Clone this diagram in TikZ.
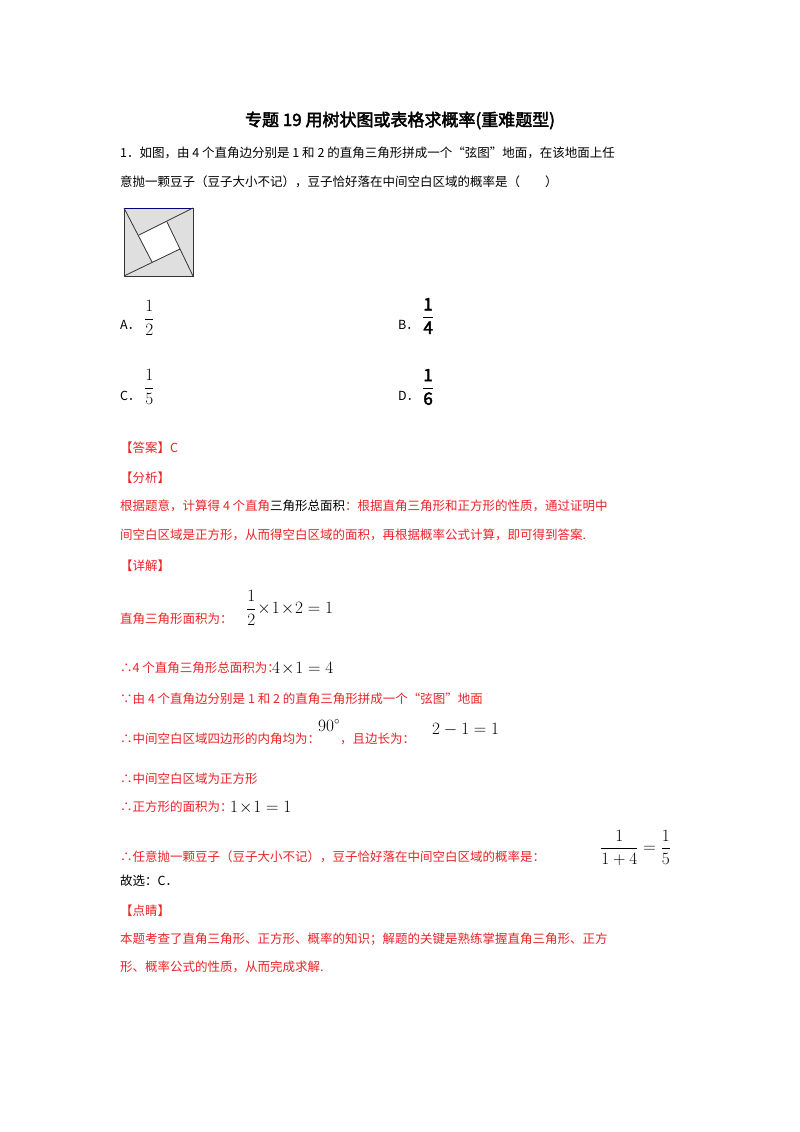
\documentclass[tikz,border=0pt]{standalone}
\usepackage{amsmath}
\usepackage{fontspec}
\setmainfont{Noto Sans CJK SC}[AutoFakeBold=2.5]
\definecolor{rd}{RGB}{235,35,40}
\begin{document}
\begin{tikzpicture}[x=1pt,y=-1pt,
  t/.style={anchor=base west,inner sep=0pt,font=\fontsize{12.5}{14}\selectfont},
  r/.style={t,text=rd},
  mf/.style={inner sep=0pt,font=\fontsize{17}{20}\selectfont},
  mm/.style={inner sep=0pt,font=\fontsize{16}{19}\selectfont}]
\useasboundingbox[fill=white] (0,0) rectangle (800,1132);
\node[anchor=base,inner sep=0pt,font=\fontsize{17}{20}\selectfont\bfseries] (title) at (400,126) {专题 19 用树状图或表格求概率(重难题型)};
\node[t] (q1) at (120,157) {1．如图，由 4 个直角边分别是 1 和 2 的直角三角形拼成一个“弦图”地面，在该地面上任};
\node[t] (q2) at (120,186) {意抛一颗豆子（豆子大小不记），豆子恰好落在中间空白区域的概率是（\hspace{2em}）};
% figure
\coordinate (TL) at (124,208); \coordinate (TR) at (193,208);
\coordinate (BL) at (124,276); \coordinate (BR) at (193,276);
\coordinate (P1) at (139,235); \coordinate (P2) at (167,222);
\coordinate (P3) at (180,249); \coordinate (P4) at (152,262);
\fill[gray!25] (TL) rectangle (BR);
\fill[white] (P1)--(P2)--(P3)--(P4)--cycle;
\draw[black!80,line width=0.8pt] (TL)--(BL)--(BR)--(TR);
\draw[blue!50!black,line width=0.9pt] (TL)--(TR);
\draw[black!80,line width=0.8pt] (TL)--(P4) (TR)--(P1) (BR)--(P2) (BL)--(P3);
% options
\node[t] (A) at (120,329) {A．};
\node[mf,anchor=west] (Af) at (144,318) {$\dfrac{1}{2}$};
\node[t] (B) at (398,329) {B．};
\node[mf,anchor=west] (Bf) at (422,316) {$\dfrac{\mathbf 1}{\mathbf 4}$};
\node[t] (C) at (120,400) {C．};
\node[mf,anchor=west] (Cf) at (144,387) {$\dfrac{1}{5}$};
\node[t] (D) at (398,400) {D．};
\node[mf,anchor=west] (Df) at (422,387) {$\dfrac{\mathbf 1}{\mathbf 6}$};
% answer
\node[r] (ans) at (120,452) {【答案】C};
\node[r] (fx) at (120,482) {【分析】};
\node[r] (fx1) at (120,510) {根据题意，计算得 4 个直角\textcolor{black}{三角形总面积}：根据直角三角形和正方形的性质，通过证明中};
\node[r] (fx2) at (120,539) {间空白区域是正方形，从而得空白区域的面积，再根据概率公式计算，即可得到答案.};
\node[r] (xj) at (120,570) {【详解】};
\node[r] (l1) at (120,623) {直角三角形面积为：};
\node[mm,anchor=west] (m1) at (246,608) {$\dfrac{1}{2}\!\times\!1\!\times\!2=1$};
\node[r] (l2) at (120,672) {∴4 个直角三角形总面积为：};
\node[mm,anchor=base west] (m2) at (272,673) {$4\!\times\!1=4$};
\node[r] (l3) at (120,703) {∵由 4 个直角边分别是 1 和 2 的直角三角形拼成一个“弦图”地面};
\node[r] (l4) at (120,743) {∴中间空白区域四边形的内角均为：};
\node[mm,anchor=base west] (m3) at (318,731) {$90^\circ$};
\node[r] (l4b) at (340,743) {，且边长为：};
\node[mm,anchor=base west] (m4) at (432,734) {$2-1=1$};
\node[r] (l5) at (120,783) {∴中间空白区域为正方形};
\node[r] (l6) at (120,811) {∴正方形的面积为：};
\node[mm,anchor=base west] (m5) at (230,812) {$1\!\times\!1=1$};
\node[r] (l7) at (120,861) {∴任意抛一颗豆子（豆子大小不记），豆子恰好落在中间空白区域的概率是：};
\node[mm,anchor=west] (m6) at (600,848) {$\dfrac{1}{1+4}=\dfrac{1}{5}$};
\node[t] (gx) at (120,885) {故选：C．};
\node[r] (dj) at (120,915) {【点睛】};
\node[r] (dj1) at (120,943) {本题考查了直角三角形、正方形、概率的知识；解题的关键是熟练掌握直角三角形、正方};
\node[r] (dj2) at (120,971) {形、概率公式的性质，从而完成求解.};
\end{tikzpicture}
\end{document}
